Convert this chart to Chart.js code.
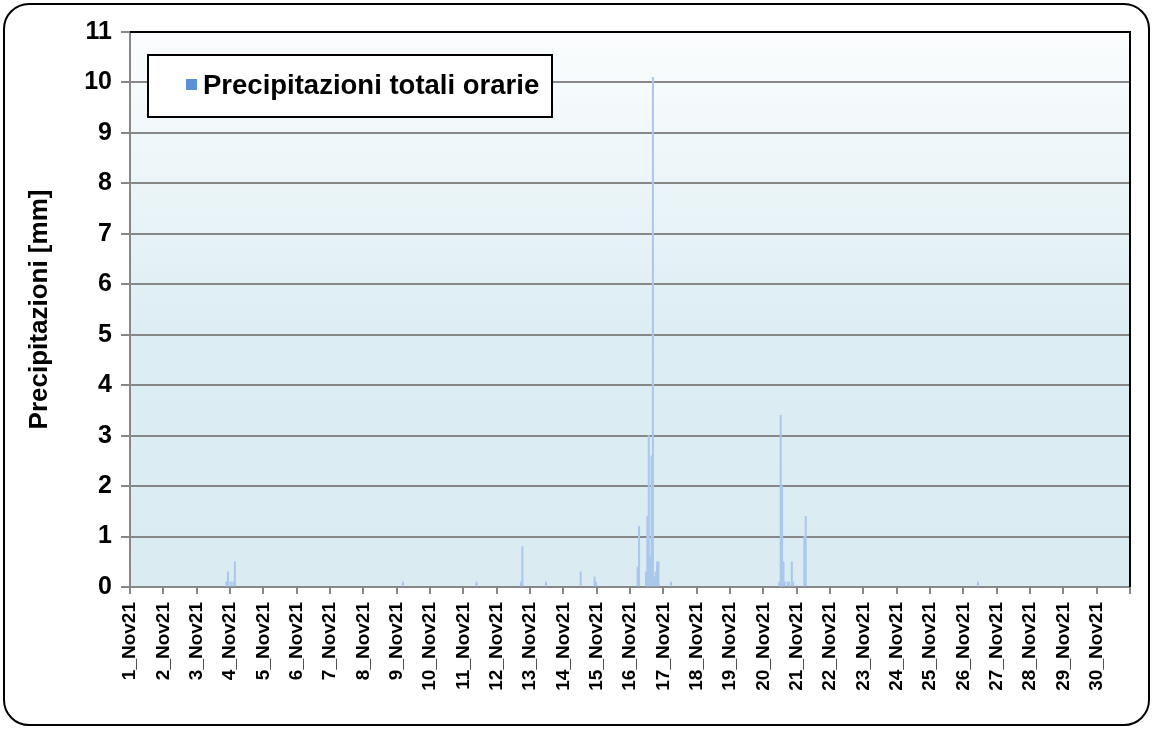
<!DOCTYPE html>
<html>
<head>
<meta charset="utf-8">
<title>Precipitazioni totali orarie - Novembre 2021</title>
<script src="https://cdn.jsdelivr.net/npm/chart.js@4.4.1/dist/chart.umd.min.js"></script>
<style>
  html, body { margin: 0; padding: 0; background: #fff; }
  #frame {
    position: absolute; left: 3px; top: 3px;
    width: 1143px; height: 719px;
    border: 2px solid #000; border-radius: 26px;
  }
  #wrap { position: absolute; left: 0; top: 0; width: 1153px; height: 729px; }
</style>
</head>
<body>
<div id="frame"></div>
<div id="wrap"><canvas id="rainChart" width="1153" height="729"></canvas></div>
<script>
// giorni del mese (etichette asse x, una ogni 24 ore)
const dayLabels = [
  "1_Nov21", "2_Nov21", "3_Nov21", "4_Nov21", "5_Nov21", "6_Nov21",
  "7_Nov21", "8_Nov21", "9_Nov21", "10_Nov21", "11_Nov21", "12_Nov21",
  "13_Nov21", "14_Nov21", "15_Nov21", "16_Nov21", "17_Nov21", "18_Nov21",
  "19_Nov21", "20_Nov21", "21_Nov21", "22_Nov21", "23_Nov21", "24_Nov21",
  "25_Nov21", "26_Nov21", "27_Nov21", "28_Nov21", "29_Nov21", "30_Nov21"
]

// ore con pioggia: giorno, ora (0-23) e precipitazione in mm
const rainDay = [
  3, 3, 4, 4, 4,
  9, 11, 12, 12, 13, 14, 14, 14,
  16, 16, 16, 16, 16, 16, 16, 16, 16, 16, 16, 16,
  17,
  20, 20, 20, 20, 20, 20, 20, 20, 20,
  21, 21,
  26
]
const rainHour = [
  21, 22, 0, 2, 3,
  4, 9, 17, 18, 11, 12, 22, 23,
  5, 6, 11, 12, 13, 14, 15, 16, 17, 18, 19, 20,
  5,
  11, 12, 13, 14, 15, 17, 18, 20, 21,
  5, 6,
  10
]
const rainMm = [
  0.1, 0.3, 0.1, 0.1, 0.5,
  0.1, 0.1, 0.1, 0.8, 0.1, 0.3, 0.2, 0.1,
  0.4, 1.2, 0.3, 1.4, 3.0, 0.6, 2.6, 10.1, 0.2, 0.3, 0.5, 0.5,
  0.1,
  0.1, 3.4, 2.0, 0.5, 0.1, 0.1, 0.1, 0.5, 0.1,
  1.0, 1.4,
  0.1
]

const yTicks = [0, 1, 2, 3, 4, 5, 6, 7, 8, 9, 10, 11]
const seriesName = "Precipitazioni totali orarie"
const yTitle = "Precipitazioni [mm]"

const hoursInMonth = dayLabels.length * 24
const font = "'Liberation Sans', Arial, sans-serif"

let points = []
for (let i = 0; i < rainMm.length; i++) {
  // ogni barra al centro della sua ora
  points.push({ x: (rainDay[i] - 1) * 24 + rainHour[i] + 0.5, y: rainMm[i] })
}

// sfondo sfumato dell'area del grafico
const plotBackground = {
  id: "plotBackground",
  beforeDraw(chart) {
    const { ctx, chartArea: a } = chart
    const g = ctx.createLinearGradient(0, a.top, 0, a.bottom)
    g.addColorStop(0, "#fbfdfe")
    g.addColorStop(0.55, "#dcedf3")
    g.addColorStop(1, "#daecf2")
    ctx.save()
    ctx.fillStyle = g
    ctx.fillRect(a.left, a.top, a.right - a.left, a.bottom - a.top)
    ctx.restore()
  },
  afterDraw(chart) {
    // bordo nero in alto e a destra
    const { ctx, chartArea: a } = chart
    ctx.save()
    ctx.strokeStyle = "#000"
    ctx.lineWidth = 2
    ctx.beginPath()
    ctx.moveTo(a.left, a.top)
    ctx.lineTo(a.right, a.top)
    ctx.lineTo(a.right, a.bottom)
    ctx.stroke()
    ctx.restore()
  }
}

// legenda in riquadro bianco dentro l'area del grafico
const legendBox = {
  id: "legendBox",
  afterDraw(chart, args, opts) {
    const { ctx, chartArea: a } = chart
    const x = a.left + 18
    const y = a.top + 23
    const w = 404
    const h = 62
    ctx.save()
    ctx.fillStyle = "#fff"
    ctx.fillRect(x, y, w, h)
    ctx.strokeStyle = "#000"
    ctx.lineWidth = 2
    ctx.strokeRect(x, y, w, h)
    ctx.fillStyle = opts.swatch
    ctx.fillRect(x + 38, y + 24, 11, 11)
    ctx.fillStyle = "#000"
    ctx.font = "bold 27.5px " + font
    ctx.textBaseline = "middle"
    ctx.fillText(chart.data.datasets[0].label, x + 55, y + 31)
    ctx.restore()
  }
}

new Chart(document.getElementById("rainChart"), {
  type: "bar",
  data: {
    datasets: [
      {
        label: seriesName,
        data: points,
        backgroundColor: "#a9c8ec",
        borderWidth: 0,
        barPercentage: 1,
        categoryPercentage: 1,
      },
    ],
  },
  options: {
    responsive: false,
    animation: false,
    layout: { padding: { left: 0, top: 32, right: 23, bottom: 0 } },
    plugins: {
      legend: { display: false },
      tooltip: { enabled: false },
      legendBox: { swatch: "#5b8fd6" },
    },
    scales: {
      x: {
        type: "linear",
        min: 0,
        max: hoursInMonth,
        offset: false,
        z: 1,
        afterFit(scale) {
          scale.height = 142
          scale.paddingLeft = 0
          scale.paddingRight = 0
        },
        ticks: {
          stepSize: 24,
          autoSkip: false,
          minRotation: 90,
          maxRotation: 90,
          padding: 8,
          color: "#000",
          font: { family: font, size: 19, weight: "bold" },
          callback: (value) => dayLabels[value / 24] || "",
        },
        grid: { offset: false, drawOnChartArea: false, color: "#878787", lineWidth: 2, tickLength: 7 },
        border: { color: "#878787", width: 2 },
      },
      y: {
        min: yTicks[0],
        max: yTicks[yTicks.length - 1],
        z: 1,
        afterFit(scale) { scale.width = 130 },
        ticks: {
          stepSize: 1,
          padding: 9,
          color: "#000",
          font: { family: font, size: 25, weight: "bold" },
        },
        grid: { color: "#878787", lineWidth: 2, tickLength: 9 },
        border: { color: "#878787", width: 2 },
        title: {
          display: true,
          text: yTitle,
          color: "#000",
          padding: { top: 24, bottom: 0 },
          font: { family: font, size: 26, weight: "bold" },
        },
      },
    },
  },
  plugins: [plotBackground, legendBox],
})
</script>
</body>
</html>
